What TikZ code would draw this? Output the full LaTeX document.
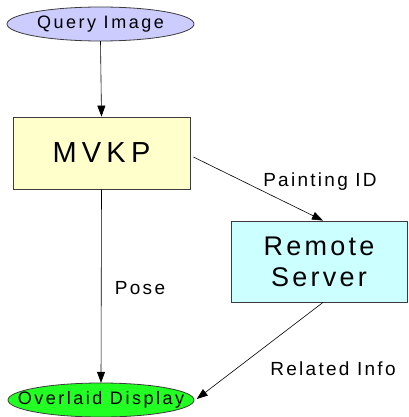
\documentclass[tikz,border=0pt]{standalone}
\usepackage{fontspec}
\setmainfont{Liberation Sans}
\usetikzlibrary{arrows.meta,calc}
\definecolor{qfill}{RGB}{204,204,255}
\definecolor{mfill}{RGB}{255,255,204}
\definecolor{rfill}{RGB}{204,255,255}
\definecolor{ofill}{RGB}{34,255,34}
\definecolor{edge}{RGB}{60,60,60}
\begin{document}
\begin{tikzpicture}[x=1pt,y=-1pt,
  oval/.style={rectangle,minimum width=187pt,minimum height=34pt,inner sep=0pt,
    font=\fontsize{18}{21}\selectfont\addfontfeature{LetterSpace=14}},
  ovalline/.style={draw=edge,line width=0.8pt},
  boxnode/.style={rectangle,draw=edge,line width=0.8pt,inner sep=0pt,align=center},
  lbl/.style={font=\fontsize{19}{22}\selectfont\addfontfeature{LetterSpace=12},inner sep=0pt},
  conn/.style={draw=black,line width=0.6pt,-{Triangle[length=11pt,width=8pt]}}]
\useasboundingbox (0,0) rectangle (408,417);
\path[ovalline,fill=qfill] (100.5,24) ellipse [x radius=93.5,y radius=17];
\node[oval] (query) at (100.5,24) {Query Image};
\path[ovalline,fill=ofill] (101,400) ellipse [x radius=93,y radius=17];
\node[oval] (over) at (101,400) {Overlaid Display};
\node[boxnode,fill=mfill,minimum width=177pt,minimum height=72pt,
  font=\fontsize{29}{33}\selectfont\addfontfeature{LetterSpace=18}] (mvkp) at (101.5,153) {MVKP};
\node[boxnode,fill=rfill,minimum width=176pt,minimum height=81pt,
  font=\fontsize{27}{31}\selectfont\addfontfeature{LetterSpace=12}] (remote) at (319,261.5) {Remote\\Server};
\draw[conn] (query.south) -- (mvkp.north);
\draw[conn] (mvkp.south) -- (over.north);
\draw[conn] ($(mvkp.east)+(3,4)$) -- ($(remote.north)+(4,0)$);
\draw[conn] ($(remote.south)+(4,0)$) -- ($(over.east)+(2,-1)$);
\node[lbl] (lp) at (140,288) {Pose};
\node[lbl] (lpid) at (320,182) {Painting ID};
\node[lbl] (lri) at (333,369) {Related Info};
\end{tikzpicture}
\end{document}
